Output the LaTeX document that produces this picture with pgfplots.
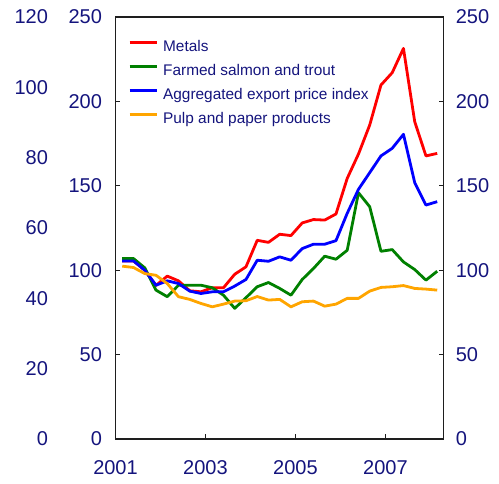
\documentclass[border=0pt]{standalone}
\usepackage{fontspec}
\setmainfont{Liberation Sans}
\usepackage{pgfplots}
\usepackage{pgfplotstable}
\pgfplotsset{compat=1.18}
\definecolor{navy}{RGB}{20,20,125}
\definecolor{cred}{RGB}{255,0,0}
\definecolor{cgreen}{RGB}{0,128,0}
\definecolor{cblue}{RGB}{0,0,255}
\definecolor{corange}{RGB}{255,165,0}
\definecolor{axisgray}{RGB}{30,30,30}

\pgfplotstableread{
x metals salmon agg pulp
2001.15 105.5 106.9 105.5 102.4
2001.40 105.5 106.9 105.5 101.6
2001.65 100.0 101.4 100.0 98.0
2001.90 91.0 88.2 91.1 97.0
2002.15 96.5 84.3 93.7 92.1
2002.40 93.7 91.1 92.1 84.3
2002.65 87.8 91.1 87.6 82.7
2002.90 87.2 91.1 86.2 80.3
2003.15 89.6 89.6 87.2 78.3
2003.40 89.6 85.2 87.2 79.9
2003.65 97.6 77.4 90.6 81.7
2003.90 102.0 83.7 94.5 81.9
2004.15 117.7 90.2 105.9 84.4
2004.40 116.5 92.7 105.3 82.3
2004.65 121.3 89.2 107.9 82.7
2004.90 120.5 85.2 105.9 78.3
2005.15 128.0 94.5 112.8 81.3
2005.40 130.0 101.0 115.4 81.7
2005.65 129.7 108.3 115.4 78.7
2005.90 133.3 106.5 117.5 79.9
2006.15 154.4 111.8 133.7 83.3
2006.40 168.8 145.9 147.9 83.3
2006.65 186.0 137.6 157.8 87.6
2006.90 209.7 111.2 167.7 89.8
2007.15 217.0 112.2 172.2 90.2
2007.40 231.4 104.9 180.5 90.9
2007.65 188.0 100.4 151.9 89.2
2007.90 167.7 94.1 138.6 88.8
2008.15 169.2 99.4 140.6 88.2
}\datatable

\begin{document}
\begin{tikzpicture}
\useasboundingbox (-115.5pt,-44pt) rectangle (383.5pt,439pt);
\pgfplotsset{
  base/.style={
    width=328pt, height=422pt, scale only axis,
    at={(0pt,0pt)}, anchor=south west,
    xmin=2001, xmax=2008.29,
    /pgf/number format/assume math mode=true,
    /pgf/number format/1000 sep={},
    tick label style={font=\fontsize{20}{24}\selectfont, text=navy},
  }
}
% outer left scale 0-120
\begin{axis}[base,
  ymin=0, ymax=120, ytick={0,20,...,120},
  hide x axis, axis y line*=left,
  y axis line style={draw=none}, major tick length=0pt,
  yticklabel style={anchor=east, xshift=-64pt}]
\addplot[draw=none] coordinates {(2002,10)};
\end{axis}
% right labels
\begin{axis}[base,
  ymin=0, ymax=250, ytick={0,50,...,250},
  hide x axis, axis y line*=right,
  y axis line style={draw=none}, major tick length=0pt,
  yticklabel style={anchor=west, xshift=8.8pt}]
\addplot[draw=none] coordinates {(2002,10)};
\end{axis}
% main axis
\begin{axis}[base,
  ymin=0, ymax=250, ytick={0,50,...,250},
  xtick={2001,2003,2005,2007},
  tick align=inside, major tick length=5pt,
  xtick pos=bottom, ytick pos=both,
  axis line style={line width=1.3pt, draw=axisgray},
  tick style={line width=1pt, draw=axisgray},
  yticklabel style={anchor=east, xshift=-10pt},
  xticklabel style={yshift=-18.5pt},
  legend cell align=left,
  legend style={
    draw=none, fill=none, anchor=north west,
    at={(rel axis cs:0.038,0.946)},
    inner sep=0pt, row sep=8pt, column sep=5pt,
    font=\fontsize{15.4}{18}\selectfont, text=navy,
    nodes={inner sep=0pt, text height=12pt, text depth=4pt}},
  legend image code/.code={\draw[#1, line width=3pt] (0pt,5pt) -- (27pt,5pt);},
  every axis plot/.append style={line width=2.8pt, line join=round}]
\addplot[cred] table[x=x,y=metals] {\datatable};
\addlegendentry{Metals}
\addplot[cgreen] table[x=x,y=salmon] {\datatable};
\addlegendentry{Farmed salmon and trout}
\addplot[cblue] table[x=x,y=agg] {\datatable};
\addlegendentry{Aggregated export price index}
\addplot[corange] table[x=x,y=pulp] {\datatable};
\addlegendentry{Pulp and paper products}
\end{axis}
\end{tikzpicture}
\end{document}
